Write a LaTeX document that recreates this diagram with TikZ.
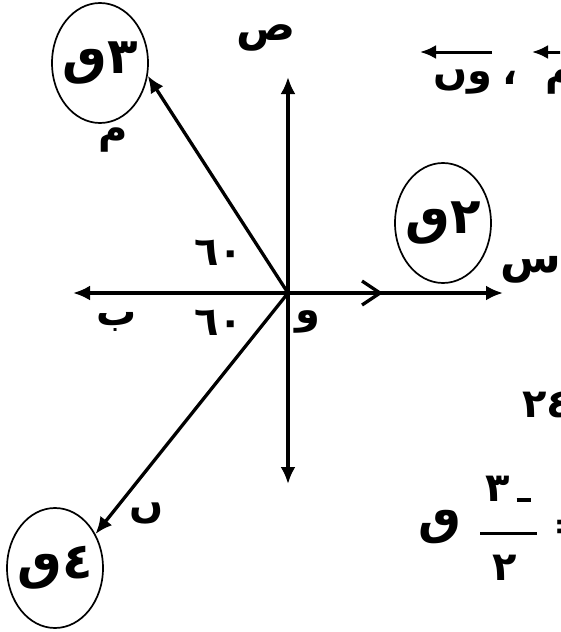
\documentclass[tikz,border=0pt]{standalone}
\usepackage{fontspec}
\newfontfamily\arabicfont[Script=Arabic]{DejaVu Sans}
\TeXXeTstate=1
\usetikzlibrary{arrows.meta, shapes.geometric, positioning, calc}

\begin{document}
\begin{tikzpicture}[
  x=1pt, y=-1pt,
  every node/.style={inner sep=0pt, font=\arabicfont\bfseries\fontsize{40}{42}\selectfont},
  force/.style={ellipse, draw, line width=1.7pt, minimum width=96pt, minimum height=120pt, font=\arabicfont\bfseries\fontsize{50}{52}\selectfont},
  axis/.style={{Latex[length=17pt,width=15pt]}-{Latex[length=17pt,width=15pt]}, line width=3.3pt},
  vec/.style={-{Latex[length=17pt,width=15pt]}, line width=3.3pt},
  barb/.style={-{Straight Barb[length=18pt,width=24pt]}, line width=3.3pt},
  over/.style={-{Latex[length=16pt,width=14pt]}, line width=3pt},
  axlbl/.style={font=\arabicfont\bfseries\fontsize{44}{46}\selectfont},
]
\useasboundingbox (0,0) rectangle (560,632);
\clip (0,0) rectangle (560,632);

% axes
\coordinate (O) at (288,293);
\coordinate (yt) at (288,77);
\coordinate (yb) at (288,484);
\coordinate (xl) at (73,293);
\coordinate (xr) at (503,293);
\draw[axis] (yb) -- (yt);
\draw[axis] (xl) -- (xr);

% forces
\node[force] (q3) at (100,63) {\makebox[0pt]{٣ٯ}};
\node[force] (q2) at (443,223) {\makebox[0pt]{٢ٯ}};
\node[force] (q4) at (55,568) {\makebox[0pt]{٤ٯ}};
\coordinate (q2tip) at (383,293);

\draw[vec] (O) -- (q3.-15);
\draw[vec] (O) -- (q4.40);
\draw[barb] (O) -- (q2tip);

% labels
\node[axlbl] (ly) at (266,38) {ص};
\node[axlbl] (lx) at (531,270) {س};
\node (lb) at (117,322) {ب};
\node (lo) at (308,322) {و};
\node (lm) at (113,140) {م};
\node (ln) at (147,513) {ں};
\node (a1) at (219,253) {٦٠};
\node (a2) at (219,323) {٦٠};

% text at right
\node (von) at (463,82) {وں};
\node (comma) at (510,78) {،};
\node[anchor=west] (vom) at (545,82) {وم};
\draw[over] ($(von.center)+(29,-30)$) -- ($(von.center)+(-43,-30)$);
\draw[over] ($(vom.west)+(40,-30)$) -- ($(vom.west)+(-13,-30)$);

\node[anchor=west] (n24) at (522,405) {٢٤};
\node (num) at (508,489) {٣\,\rule{14pt}{3.5pt}};
\node (den) at (505,568) {٢};
\draw[line width=3pt] (480,533) -- (537,533);
\node[font=\arabicfont\bfseries\fontsize{48}{50}\selectfont] (qf) at (440,527) {ٯ};
\node[anchor=west] (eq) at (553,530) {=};
\end{tikzpicture}
\end{document}
